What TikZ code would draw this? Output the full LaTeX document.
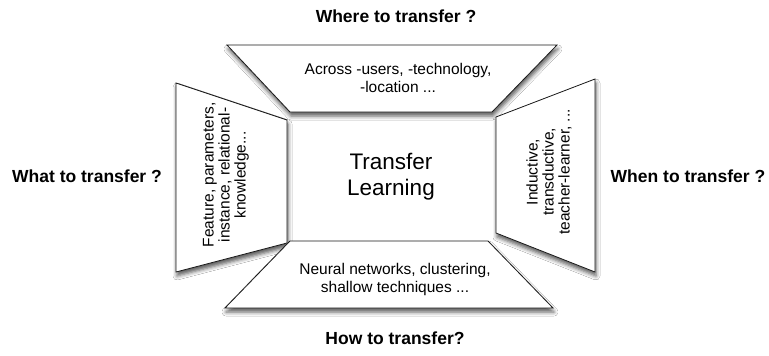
\documentclass[tikz,border=0pt]{standalone}
\usepackage{fontspec}
\setmainfont{Liberation Sans}
\usetikzlibrary{shadows.blur}

\tikzset{
  panel/.style={draw=black!90, line width=0.8pt, fill=white,
    blur shadow={shadow xshift=1pt, shadow yshift=-4pt, shadow blur radius=4pt, shadow opacity=65}},
  paneltext/.style={align=center, font=\fontsize{15.5}{18}\selectfont},
  sidetext/.style={paneltext, rotate=90, font=\fontsize{15.5}{16}\selectfont},
  question/.style={font=\fontsize{17.5}{20}\selectfont\bfseries},
}

\begin{document}
\begin{tikzpicture}[x=1pt, y=-1pt]
  \path[use as bounding box, fill=white] (0,0) rectangle (769,356);

  \draw[panel] (227,45) -- (557,45) -- (492,112) -- (290,112) -- cycle;
  \draw[panel] (176,83) -- (287,120) -- (287,243) -- (176,272) -- cycle;
  \draw[panel] (496,117) -- (595,79) -- (595,272) -- (496,233) -- cycle;
  \draw[panel] (290,241) -- (488,241) -- (553,308) -- (225,308) -- cycle;

  \node[paneltext] (where) at (398,78) {Across -users, -technology,\\-location ...};
  \node[sidetext] (what) at (226,175) {Feature, parameters,\\instance, relational-\\knowledge...};
  \node[sidetext] (when) at (549,172) {Inductive,\\transductive,\\teacher-learner, ...};
  \node[paneltext] (how) at (395,279) {Neural networks, clustering,\\shallow techniques ...};

  \node[align=center, font=\fontsize{22.5}{26}\selectfont] (tl) at (391,177) {Transfer\\Learning};

  \node[question] (qwhere) at (396,16) {Where to transfer ?};
  \node[question] (qwhat) at (87,176) {What to transfer ?};
  \node[question] (qwhen) at (688,176) {When to transfer ?};
  \node[question] (qhow) at (395,338) {How to transfer?};
\end{tikzpicture}
\end{document}
